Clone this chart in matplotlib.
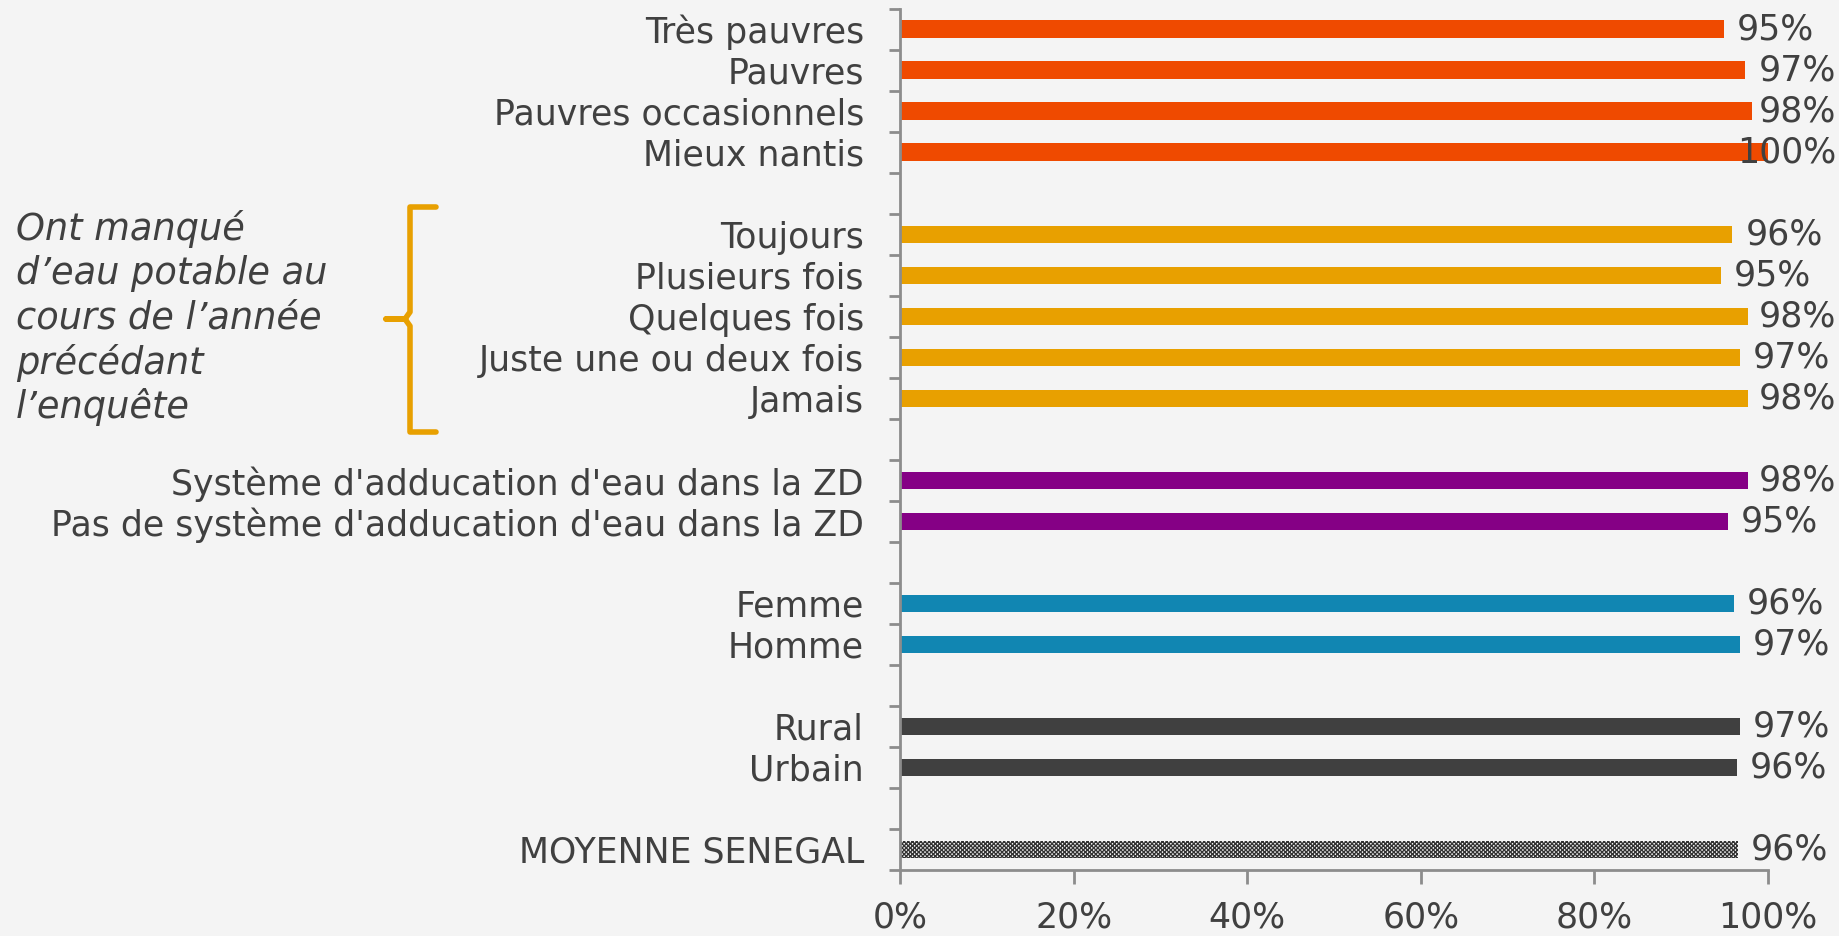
import numpy as np
import matplotlib.pyplot as plt
from matplotlib.path import Path
from matplotlib.patches import PathPatch

plt.rcParams['font.family'] = ['DejaVu Sans']

# data, top to bottom, one list per group
revenu = ['Très pauvres', 'Pauvres', 'Pauvres occasionnels', 'Mieux nantis']
revenu_val = [94.9, 97.4, 98.1, 100.0]
manque = ['Toujours', 'Plusieurs fois', 'Quelques fois', 'Juste une ou deux fois', 'Jamais']
manque_val = [95.9, 94.6, 97.7, 96.8, 97.7]
adduction = ["Système d'adducation d'eau dans la ZD", "Pas de système d'adducation d'eau dans la ZD"]
adduction_val = [97.7, 95.4]
sexe = ['Femme', 'Homme']
sexe_val = [96.1, 96.8]
milieu = ['Rural', 'Urbain']
milieu_val = [96.8, 96.4]
moyenne = ['MOYENNE SENEGAL']
moyenne_val = [96.5]

groups = [revenu, manque, adduction, sexe, milieu, moyenne]
group_vals = [revenu_val, manque_val, adduction_val, sexe_val, milieu_val, moyenne_val]
colors = ['#EF4A00', '#E8A000', '#850085', '#1186B2', '#404040', None]

bg = '#F4F4F4'
txt = '#404040'
axcol = '#8C8C8C'
fs = 25

fig = plt.figure(figsize=(18.39, 9.36), dpi=100, facecolor=bg)
ax = fig.add_axes([900/1839, 1-870/936, 868/1839, 861.5/936])
ax.set_facecolor(bg)

pos = 0
ylabels, ypos = [], []
vlabels = []
for cats, vals, c in zip(groups, group_vals, colors):
    ys = np.arange(pos, pos + len(cats))
    if c is None:
        ax.barh(ys, vals, height=0.42, color='white', edgecolor='#333333',
                hatch='xxxxxxxx', linewidth=0)
    else:
        ax.barh(ys, vals, height=0.42, color=c)
    for y, v in zip(ys, vals):
        t = ax.text(v + 1.5, y, f'{round(v)}%', va='center', ha='left',
                    fontsize=fs, color=txt)
        vlabels.append(t)
    ylabels += cats
    ypos += list(ys)
    pos += len(cats) + 1

nslots = pos - 1
ax.set_ylim(nslots - 0.5, -0.5)
ax.set_xlim(0, 100)
ax.set_yticks(ypos)
ax.set_yticklabels(ylabels, fontsize=fs, color=txt)
ax.set_yticks(np.arange(-0.5, nslots, 1), minor=True)
ax.tick_params(axis='y', which='major', length=0, pad=26)
ax.tick_params(axis='y', which='minor', length=8, width=2, color=axcol)
ax.set_xticks([0, 20, 40, 60, 80, 100])
ax.set_xticklabels(['0%', '20%', '40%', '60%', '80%', '100%'], fontsize=fs, color=txt)
ax.tick_params(axis='x', length=10, width=2, color=axcol, pad=12)
for s in ['top', 'right']:
    ax.spines[s].set_visible(False)
for s in ['left', 'bottom']:
    ax.spines[s].set_color(axcol)
    ax.spines[s].set_linewidth(2)

# labels that would run off the right edge are pushed back inside
fig.canvas.draw()
r = fig.canvas.get_renderer()
W, H = 1839, 936
xmax = ax.transData.inverted().transform((W - 3, 0))[0]
for t in vlabels:
    if t.get_window_extent(r).x1 > W - 3:
        t.set_x(xmax)
        t.set_ha('right')

# bracket next to the "manque d'eau" group
pts = [(436, 207), (410, 207), (410, 312), (405, 319), (386, 319), (405, 319),
       (410, 326), (410, 432), (436, 432)]
verts = [(x / W, 1 - y / H) for x, y in pts]
brace = PathPatch(Path(verts), transform=fig.transFigure, fill=False,
                  edgecolor='#E8A000', linewidth=4, capstyle='round', joinstyle='round')
fig.patches.append(brace)

note = ['Ont manqué', 'd’eau potable au', 'cours de l’année', 'précédant', 'l’enquête']
for i, line in enumerate(note):
    fig.text(16 / W, 1 - (229 + i * 44.5) / H, line, fontsize=26.5, style='italic',
             color=txt, va='center', ha='left')

fig.savefig('out.png', dpi=100, facecolor=bg)
